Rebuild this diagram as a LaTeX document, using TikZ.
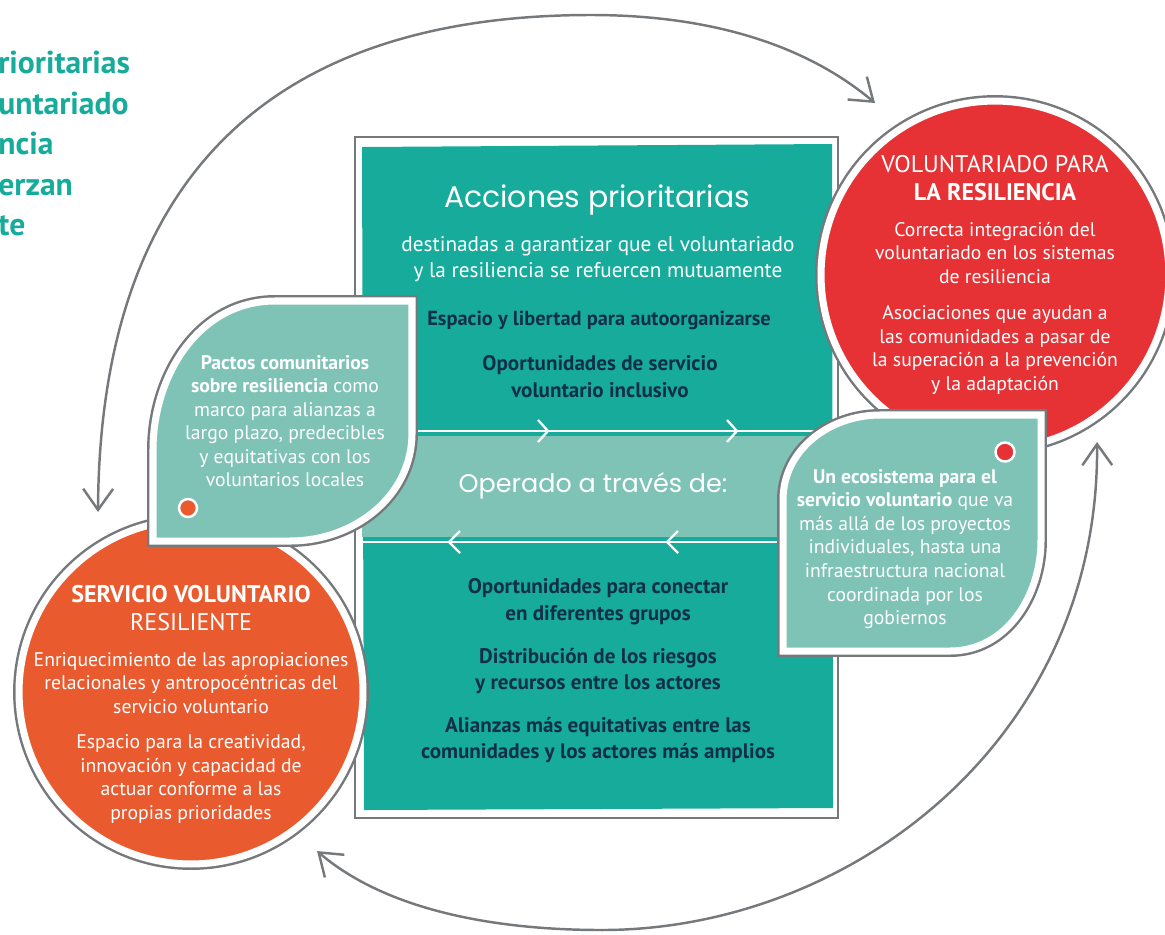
\documentclass[tikz,border=0pt]{standalone}
\usepackage{fontspec}
\setmainfont{PT Sans}
\newfontfamily\handfont{Poppins}
\usetikzlibrary{arrows.meta}

\definecolor{panelteal}{HTML}{17AB9C}
\definecolor{leafteal}{HTML}{7FC3B7}
\definecolor{resred}{HTML}{E63235}
\definecolor{servorange}{HTML}{E95B2F}
\definecolor{rimgray}{HTML}{76797C}
\definecolor{inkblue}{HTML}{10304A}

\begin{document}
\begin{tikzpicture}[x=0.02cm,y=0.02cm,
  rim/.style={draw=rimgray, line width=1.6pt},
  bubble/.style={circle, inner sep=0pt, minimum size=#1, draw=white, line width=4pt,
    preaction={draw=rimgray, line width=6.8pt}},
  leaf/.style={fill=leafteal, draw=white, line width=4pt,
    preaction={draw=rimgray, line width=6.8pt}},
  dot/.style={circle, inner sep=0pt, minimum size=#1, draw=white, line width=1.4pt},
  chev/.style={white, line width=1.3pt},
  body/.style={align=center, text=white, font=\fontsize{12.1}{14.7}\selectfont},
  key/.style={align=center, text=inkblue, font=\bfseries\fontsize{12}{15.3}\selectfont},
  circtxt/.style={align=center, text=white, font=\fontsize{11.2}{13.4}\selectfont},
  big/.style={align=center, text=white, font=\fontsize{13.7}{16.4}\selectfont},
  hand/.style={text=white, font=\handfont\fontsize{14.5}{17}\selectfont},
  link/.style={draw=rimgray, line width=1.4pt,
    {Straight Barb[length=12pt,width=17pt]}-{Straight Barb[length=12pt,width=17pt]}}
]
\useasboundingbox (0,0) rectangle (1165,-934);

\node[anchor=north west, inner sep=0pt, align=left, text=panelteal,
  font=\bfseries\fontsize{18}{23}\selectfont] (head) at (-2,-51)
  {rioritarias\\untariado\\ncia\\erzan\\te};

\draw[rim, fill=white] (355,-137) rectangle (838,-818);
\fill[panelteal] (362,-147) -- (832,-144) -- (833,-808) -- (364,-810) -- cycle;
\fill[leafteal] (362,-436) rectangle (833,-537);
\draw[chev] (362,-431) -- (833,-431);
\draw[chev] (362,-542) -- (833,-542);
\draw[chev] (538,-420) -- (548,-431) -- (538,-442);
\draw[chev] (727,-420) -- (737,-431) -- (727,-442);
\draw[chev] (460,-531) -- (449,-542) -- (460,-553);
\draw[chev] (678,-531) -- (667,-542) -- (678,-553);

\node[hand, font=\handfont\fontsize{17}{19}\selectfont] (acc) at (597,-200) {Acciones prioritarias};
\node[body] (dest) at (598,-259) {destinadas a garantizar que el voluntariado\\y la resiliencia se refuercen mutuamente};
\node[key, font=\bfseries\fontsize{11.6}{15.3}\selectfont] (esp) at (599,-320) {Espacio y libertad para autoorganizarse};
\node[key] (opo) at (600,-377) {Oportunidades de servicio\\voluntario inclusivo};
\node[hand] (oper) at (593,-486) {Operado a través de:};
\node[key] (con) at (598,-602) {Oportunidades para conectar\\en diferentes grupos};
\node[key] (dis) at (598,-671) {Distribución de los riesgos\\y recursos entre los actores};
\node[key] (ali) at (598,-740) {Alianzas más equitativas entre las\\comunidades y los actores más amplios};

\node[bubble=6.96cm, fill=resred] (resil) at (995,-275) {};
\node[big] (resilhead) at (995,-178) {VOLUNTARIADO PARA\\\textbf{LA RESILIENCIA}};
\node[circtxt] (resilone) at (995,-253) {Correcta integración del\\voluntariado en los sistemas\\de resiliencia};
\node[circtxt] (resiltwo) at (995,-350) {Asociaciones que ayudan a\\las comunidades a pasar de\\la superación a la prevención\\y la adaptación};

\node[bubble=6.88cm, fill=servorange] (serv) at (191,-692) {};
\node[big] (servhead) at (191,-608) {\textbf{SERVICIO VOLUNTARIO}\\RESILIENTE};
\node[circtxt] (servone) at (191,-683) {Enriquecimiento de las apropiaciones\\relacionales y antropocéntricas del\\servicio voluntario};
\node[circtxt] (servtwo) at (191,-779) {Espacio para la creatividad,\\innovación y capacidad de\\actuar conforme a las\\propias prioridades};

\path[leaf] (153,-541) -- (153,-450) to[out=90,in=180] (275,-301) -- (412,-301)
  -- (412,-433) to[out=-90,in=0] (290,-541) -- cycle;
\node[circtxt] (pactos) at (285,-421) {\textbf{Pactos comunitarios}\\\textbf{sobre resiliencia} como\\marco para alianzas a\\largo plazo, predecibles\\y equitativas con los\\voluntarios locales};
\node[dot=0.36cm, fill=servorange] (pdot) at (188,-508) {};

\path[leaf] (783,-651) -- (783,-500) to[out=90,in=180] (880,-415) -- (1041,-415)
  -- (1041,-540) to[out=-90,in=0] (950,-651) -- cycle;
\node[circtxt] (ecos) at (905,-549) {\textbf{Un ecosistema para el}\\\textbf{servicio voluntario} que va\\más allá de los proyectos\\individuales, hasta una\\infraestructura nacional\\coordinada por los\\gobiernos};
\node[dot=0.38cm, fill=resred] (edot) at (1005,-452) {};

\coordinate (toservtip) at (98,-512);
\coordinate (toresiltip) at (875,-103);
\coordinate (frombottom) at (317,-851);
\coordinate (toright) at (1097,-442);
\draw[link] (toservtip) .. controls (100,-150) and (300,-15) .. (591,-15)
  .. controls (700,-15) and (800,-40) .. (toresiltip);
\draw[link] (frombottom) .. controls (380,-905) and (480,-930) .. (602,-930)
  .. controls (850,-930) and (1100,-740) .. (toright);
\end{tikzpicture}
\end{document}
